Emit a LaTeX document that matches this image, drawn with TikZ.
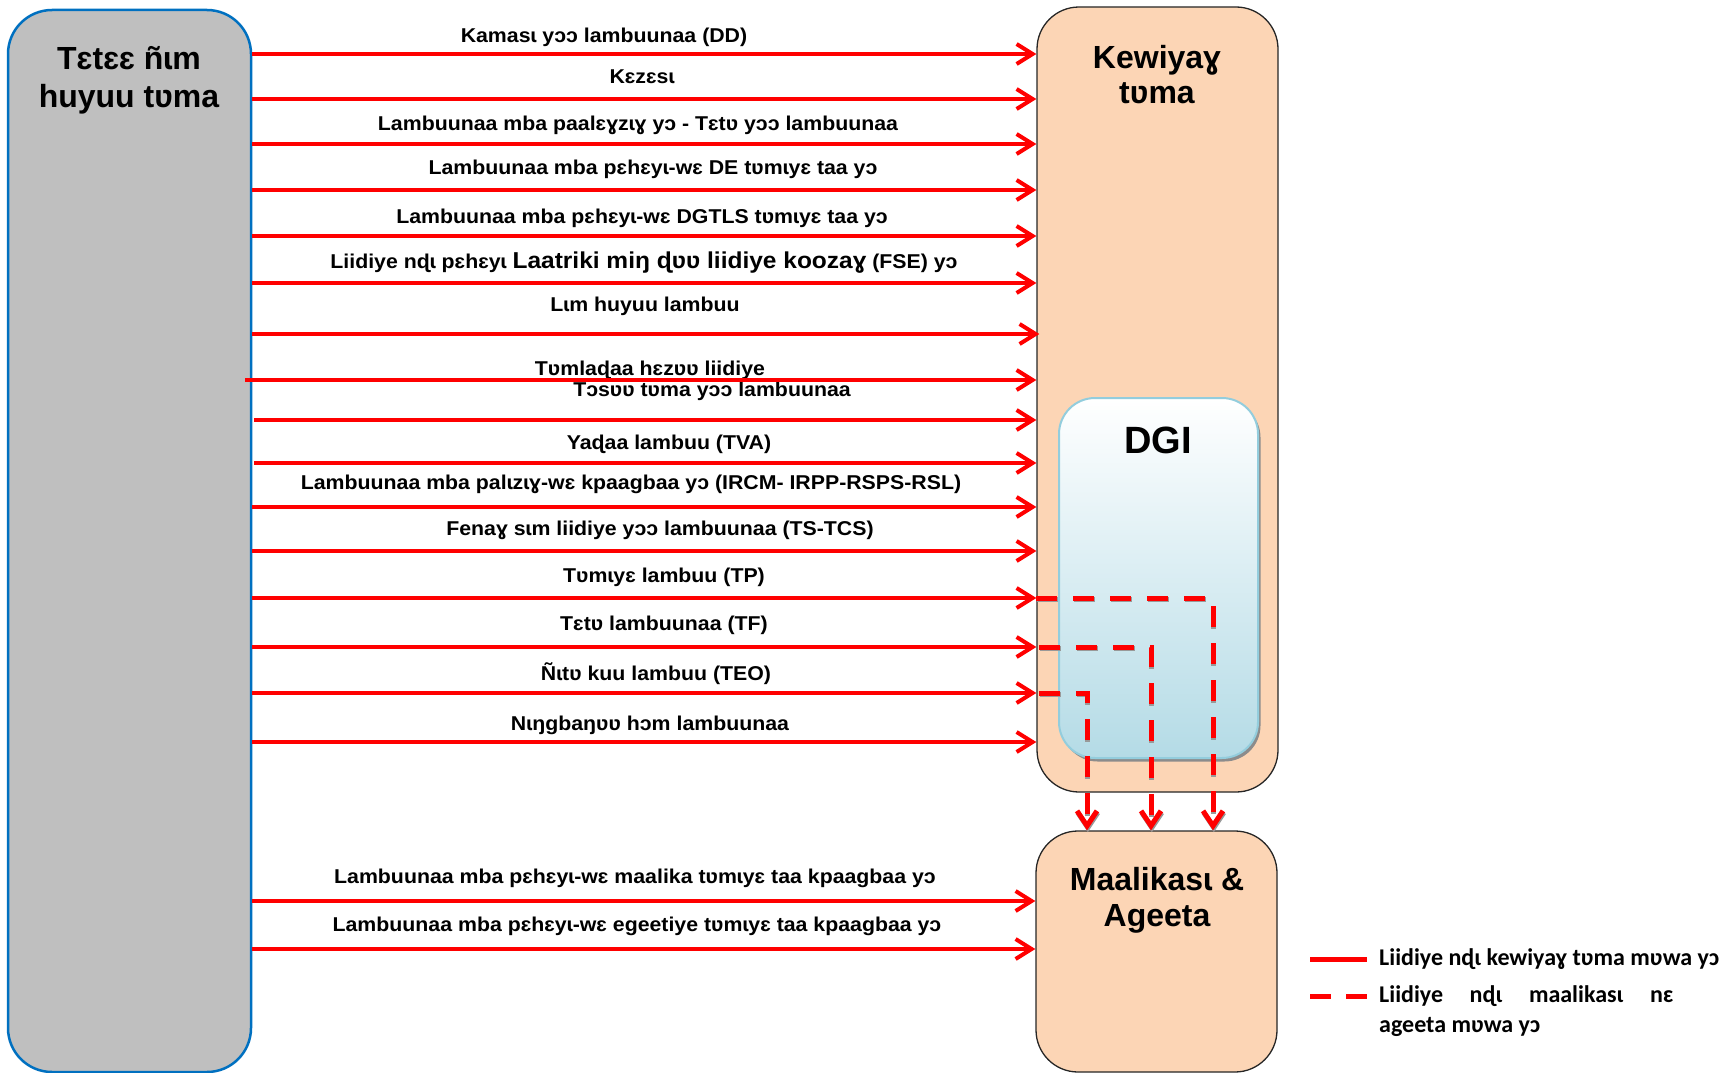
\documentclass[tikz,border=0pt]{standalone}
\usepackage{fontspec}
\setmainfont{Liberation Sans}
\newfontfamily\labfont{Liberation Sans}[FakeStretch=1.065]
\newfontfamily\legendfont{Carlito}
\usetikzlibrary{arrows.meta,shadows}
\definecolor{boxgray}{HTML}{BFBFBF}
\definecolor{boxblue}{HTML}{0070C0}
\definecolor{peach}{HTML}{FCD5B5}
\definecolor{dgiblue}{HTML}{B4DBE6}
\definecolor{dgiline}{HTML}{93CDDD}

\begin{document}
\begin{tikzpicture}[x=1pt, y=-1pt,
	flow/.style={draw=red, line width=4pt, -{Straight Barb[length=16pt, width=20pt]}},
	dflow/.style={draw=red, line width=5pt, dash pattern=on 21pt off 16pt, -{Straight Barb[length=15pt, width=20pt]},
		preaction={draw=black!40, line width=5pt, dash pattern=on 21pt off 16pt, -{Straight Barb[length=15pt, width=20pt]}, transform canvas={xshift=0.8pt, yshift=-1.8pt}}},
	lab/.style={font=\labfont\bfseries\fontsize{20}{24}\selectfont, inner sep=0pt},
	title/.style={font=\bfseries\fontsize{32}{36}\selectfont, inner sep=0pt, align=center},
	unit/.style={draw=black!85, line width=1.3pt, fill=peach, rounded corners=42pt, minimum width=241pt}]
	\useasboundingbox (0,0) rectangle (1724,1073);

	\node [draw=boxblue, line width=2.5pt, fill=boxgray, rounded corners=44pt, minimum width=243pt, minimum height=1062pt] (left) at (129.5,541) {};
	\node [unit, minimum height=785pt] (kew) at (1157.5,399.5) {};
	\node [unit, minimum height=241pt] (mal) at (1156.5,951.5) {};
	\node [draw=dgiline, line width=2pt, top color=white, bottom color=dgiblue, rounded corners=36pt, minimum width=199pt, minimum height=360pt,
		drop shadow={shadow xshift=2.5pt, shadow yshift=-3.5pt, fill=black!45, opacity=1}] (dgi) at (1158.5,578) {};

	\node [title, font=\bfseries\fontsize{32}{38}\selectfont] (lefttitle) at (129,80) {Tɛtɛɛ ñɩm\\huyuu tʋma};
	\node [title, font=\bfseries\fontsize{32}{35}\selectfont] (kewtitle) at (1157,75) {Kewiyaɣ\\tʋma};
	\node [title] (maltitle) at (1157,900) {Maalikasɩ \&\\Ageeta};
	\node [title, font=\bfseries\fontsize{38}{40}\selectfont] (dgititle) at (1158,440) {DGI};

	\node [lab] (l1) at (604,37) {Kamasɩ yɔɔ lambuunaa (DD)};
	\node [lab] (l2) at (642,77) {Kɛzɛsɩ};
	\node [lab] (l3) at (638,125) {Lambuunaa mba paalɛɣzɩɣ yɔ - Tɛtʋ yɔɔ lambuunaa};
	\node [lab] (l4) at (653,169) {Lambuunaa mba pɛhɛyɩ-wɛ DE tʋmɩyɛ taa yɔ};
	\node [lab] (l5) at (642,218) {Lambuunaa mba pɛhɛyɩ-wɛ DGTLS tʋmɩyɛ taa yɔ};
	\node [lab] (l6) at (644,263) {Liidiye nɖɩ pɛhɛyɩ {\fontsize{23}{26}\selectfont Laatriki miŋ ɖʋʋ liidiye koozaɣ} (FSE) yɔ};
	\node [lab] (l7) at (645,306) {Lɩm huyuu lambuu};
	\node [lab] (l8) at (650,370) {Tʋmlaɖaa hɛzʋʋ liidiye};
	\node [lab] (l9) at (712,391) {Tɔsʋʋ tʋma yɔɔ lambuunaa};
	\node [lab] (l10) at (669,444) {Yaɖaa lambuu (TVA)};
	\node [lab] (l11) at (631,484) {Lambuunaa mba palɩzɩɣ-wɛ kpaagbaa yɔ (IRCM- IRPP-RSPS-RSL)};
	\node [lab] (l12) at (660,530) {Fenaɣ sɩm liidiye yɔɔ lambuunaa (TS-TCS)};
	\node [lab] (l13) at (664,577) {Tʋmɩyɛ lambuu (TP)};
	\node [lab] (l14) at (664,625) {Tɛtʋ lambuunaa (TF)};
	\node [lab] (l15) at (656,674) {Ñɩtʋ kuu lambuu (TEO)};
	\node [lab] (l16) at (650,725) {Nɩŋgbaŋʋʋ hɔm lambuunaa};
	\node [lab] (l17) at (635,878) {Lambuunaa mba pɛhɛyɩ-wɛ maalika tʋmɩyɛ taa kpaagbaa yɔ};
	\node [lab] (l18) at (637,926) {Lambuunaa mba pɛhɛyɩ-wɛ egeetiye tʋmɩyɛ taa kpaagbaa yɔ};

	\draw [flow] (left.east |- 0,54) to (kew.west |- 0,54);
	\draw [flow] (left.east |- 0,99) to (kew.west |- 0,99);
	\draw [flow] (left.east |- 0,144) to (kew.west |- 0,144);
	\draw [flow] (left.east |- 0,190) to (kew.west |- 0,190);
	\draw [flow] (left.east |- 0,236) to (kew.west |- 0,236);
	\draw [flow] (left.east |- 0,283) to (kew.west |- 0,283);
	\draw [flow] (left.east |- 0,334) to ([xshift=3pt]kew.west |- 0,334);
	\draw [flow] ([xshift=-7pt]left.east |- 0,380) to (kew.west |- 0,380);
	\draw [flow] ([xshift=2pt]left.east |- 0,420) to (kew.west |- 0,420);
	\draw [flow] ([xshift=2pt]left.east |- 0,463) to (kew.west |- 0,463);
	\draw [flow] (left.east |- 0,507) to (kew.west |- 0,507);
	\draw [flow] (left.east |- 0,551) to (kew.west |- 0,551);
	\draw [flow] (left.east |- 0,598) to (kew.west |- 0,598);
	\draw [flow] (left.east |- 0,647) to (kew.west |- 0,647);
	\draw [flow] (left.east |- 0,693) to (kew.west |- 0,693);
	\draw [flow] (left.east |- 0,742) to (kew.west |- 0,742);

	\draw [flow] (left.east |- 0,901) to (mal.west |- 0,901);
	\draw [flow] (left.east |- 0,949) to (mal.west |- 0,949);

	\coordinate (d1) at (1213,598);
	\coordinate (d2) at (1151,647);
	\coordinate (d3) at (1087,693);
	\draw [dflow] (kew.west |- d1) -- (d1) -- (d1 |- mal.north);
	\draw [dflow] ([xshift=3pt]kew.west |- d2) -- (d2) -- (d2 |- mal.north);
	\draw [dflow] ([xshift=3pt]kew.west |- d3) -- (d3) -- (d3 |- mal.north);

	\coordinate (k1) at (1310,959);
	\coordinate (k2) at (1367,959);
	\coordinate (k3) at (1310,996);
	\coordinate (k4) at (1367,996);
	\draw [red, line width=5pt] (k1) -- (k2);
	\draw [red, line width=5pt, dash pattern=on 21pt off 15pt] (k3) -- (k4);
	\node [anchor=west, inner sep=0pt, font=\legendfont\bfseries\fontsize{24}{31}\selectfont] (key1) at (1379,959) {Liidiye nɖɩ kewiyaɣ tʋma mʋwa yɔ};
	\node [anchor=north west, inner sep=0pt, text width=294pt, align=justify, font=\legendfont\bfseries\fontsize{24}{30}\selectfont] (key2) at (1379,985) {Liidiye nɖɩ maalikasɩ nɛ ageeta mʋwa yɔ};
\end{tikzpicture}
\end{document}
